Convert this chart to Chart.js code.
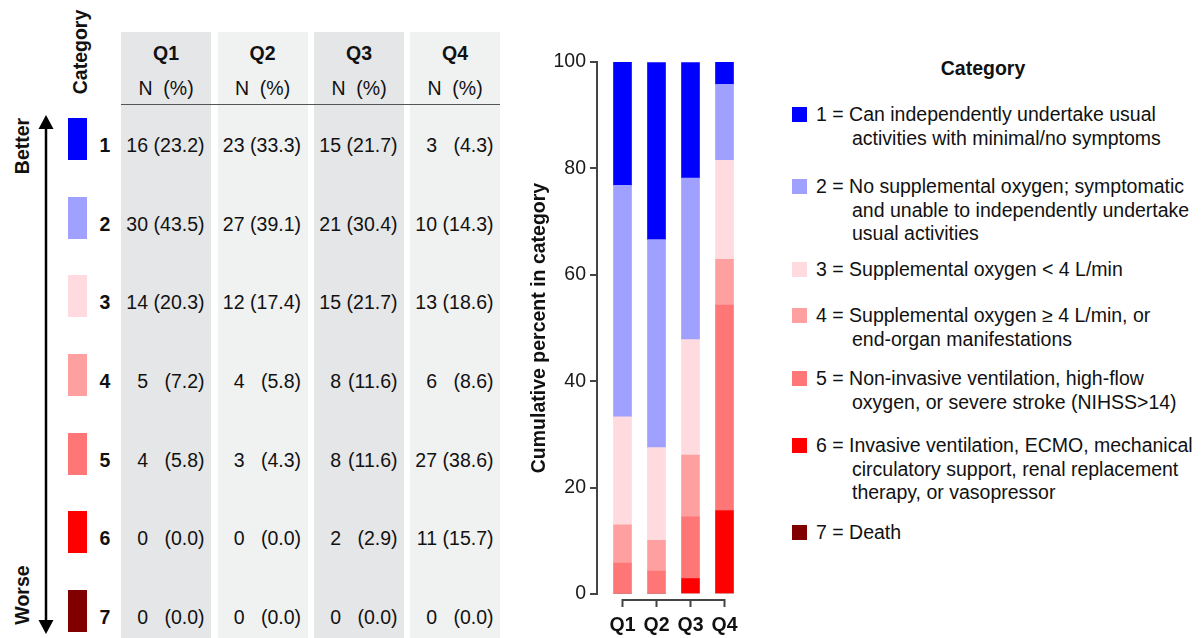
<!DOCTYPE html>
<html>
<head>
<meta charset="utf-8">
<script src="https://cdn.jsdelivr.net/npm/chart.js@4.4.0/dist/chart.umd.min.js"></script>
<style>
  body { margin: 0; width: 1204px; height: 638px; background: #fff; overflow: hidden; position: relative;
         font-family: "Liberation Sans", Arial, Helvetica, sans-serif; color: #111; }
  .t { position: absolute; white-space: nowrap; height: 24px; line-height: 24px; font-size: 19.5px; }
  .b { font-weight: bold; }
  .rot { position: absolute; white-space: nowrap; font-size: 19.5px; font-weight: bold; line-height: 24px;
         transform: translate(-50%, -50%) rotate(-90deg); }
  .box { position: absolute; }
  #bars { position: absolute; left: 500px; top: 0; }
  #arrow { position: absolute; left: 0; top: 0; }
</style>
</head>
<body>
<canvas id="bars" width="260" height="638"></canvas>
<script>
// data
const quarters = ['Q1', 'Q2', 'Q3', 'Q4'];
const categories = ['1', '2', '3', '4', '5', '6', '7'];

// N per quarter, one array per category
const nCat1 = [16, 23, 15, 3];
const nCat2 = [30, 27, 21, 10];
const nCat3 = [14, 12, 15, 13];
const nCat4 = [5, 4, 8, 6];
const nCat5 = [4, 3, 8, 27];
const nCat6 = [0, 0, 2, 11];
const nCat7 = [0, 0, 0, 0];

// percent per quarter
const pctCat1 = [23.2, 33.3, 21.7, 4.3];
const pctCat2 = [43.5, 39.1, 30.4, 14.3];
const pctCat3 = [20.3, 17.4, 21.7, 18.6];
const pctCat4 = [7.2, 5.8, 11.6, 8.6];
const pctCat5 = [5.8, 4.3, 11.6, 38.6];
const pctCat6 = [0.0, 0.0, 2.9, 15.7];
const pctCat7 = [0.0, 0.0, 0.0, 0.0];

const yTicks = [0, 20, 40, 60, 80, 100];

const legendText = [
  ['Can independently undertake usual', 'activities with minimal/no symptoms'],
  ['No supplemental oxygen; symptomatic', 'and unable to independently undertake', 'usual activities'],
  ['Supplemental oxygen < 4 L/min'],
  ['Supplemental oxygen \u2265 4 L/min, or', 'end-organ manifestations'],
  ['Non-invasive ventilation, high-flow', 'oxygen, or severe stroke (NIHSS>14)'],
  ['Invasive ventilation, ECMO, mechanical', 'circulatory support, renal replacement', 'therapy, or vasopressor'],
  ['Death']
];

const counts = [nCat1, nCat2, nCat3, nCat4, nCat5, nCat6, nCat7];
const pcts = [pctCat1, pctCat2, pctCat3, pctCat4, pctCat5, pctCat6, pctCat7];
const catColors = ['#0000ff', '#a0a0ff', '#ffdadf', '#ffa0a0', '#ff7676', '#ff0000', '#800000'];

// helpers for the html parts
function addText(txt, x, y, align, cls) {
  const d = document.createElement('div');
  d.className = 't' + (cls ? ' ' + cls : '');
  d.textContent = txt;
  d.style.top = (y - 12) + 'px';
  if (align === 'right') {
    d.style.right = (1204 - x) + 'px';
  } else if (align === 'center') {
    d.style.left = x + 'px';
    d.style.transform = 'translateX(-50%)';
  } else {
    d.style.left = x + 'px';
  }
  document.body.appendChild(d);
}
function addBox(x, y, w, h, color) {
  const d = document.createElement('div');
  d.className = 'box';
  Object.assign(d.style, { left: x + 'px', top: y + 'px', width: w + 'px', height: h + 'px', background: color });
  document.body.appendChild(d);
}
function addRot(txt, x, y) {
  const d = document.createElement('div');
  d.className = 'rot';
  d.textContent = txt;
  d.style.left = x + 'px';
  d.style.top = y + 'px';
  document.body.appendChild(d);
}

// left table
const colLeft = [121, 217.5, 314, 410];
const colBg = ['#e5e6e8', '#f0f1f1', '#e5e6e8', '#f0f1f1'];
const rowY = i => 145 + i * 78.67;

colLeft.forEach((x, j) => addBox(x, 32, 90, 606, colBg[j]));
colLeft.forEach((x, j) => {
  addText(quarters[j], x + 45, 53, 'center', 'b');
  addText('N\u00a0\u00a0(%)', x + 45, 88, 'center');
});
addBox(121, 103.5, 379, 1.5, '#555');

// better / worse arrow
document.body.insertAdjacentHTML('beforeend',
  '<svg id="arrow" width="100" height="638">' +
  '<line x1="46" y1="126" x2="46" y2="622" stroke="#000" stroke-width="2.5"/>' +
  '<polygon points="46,115 38.5,129 53.5,129" fill="#000"/>' +
  '<polygon points="46,634 38.5,620 53.5,620" fill="#000"/></svg>');

addRot('Category', 80, 52);
addRot('Better', 22, 146);
addRot('Worse', 22, 595);

categories.forEach((c, i) => {
  const y = rowY(i);
  addBox(68, y - 27, 19, 42, catColors[i]);
  addText(c, 105, y, 'center', 'b');
  quarters.forEach((q, j) => {
    addText(String(counts[i][j]), colLeft[j] + 27, y, 'right');
    addText('(' + pcts[i][j].toFixed(1) + ')', colLeft[j] + 83.5, y, 'right');
  });
});

// legend on the right
const legendY = [114, 186, 269, 315, 378, 445, 532];
addText('Category', 983, 68, 'center', 'b');
categories.forEach((c, i) => {
  const y = legendY[i];
  addBox(792, y - 7.5, 15, 15, catColors[i]);
  legendText[i].forEach((line, k) => {
    if (k === 0) addText(c + ' = ' + line, 816, y, 'left');
    else addText(line, 852, y + k * 23.5, 'left');
  });
});

// stacked bars
Chart.defaults.font.family = '"Liberation Sans", Arial, Helvetica, sans-serif';
Chart.defaults.color = '#1a1a1a';

// worst category goes at the bottom of the stack
const datasets = [];
for (let i = categories.length - 1; i >= 0; i--) {
  datasets.push({
    label: categories[i],
    data: pcts[i].map((v, j) => ({ x: j + 1, y: v })),
    backgroundColor: catColors[i],
    borderWidth: 0,
    barThickness: 18
  });
}

// R style bracket under the bars
const bracket = {
  id: 'bracket',
  afterDraw(chart) {
    const { ctx, chartArea } = chart;
    const xs = chart.scales.x;
    const y0 = chartArea.bottom + 6;
    const px = quarters.map((q, i) => xs.getPixelForValue(i + 1));
    ctx.save();
    ctx.strokeStyle = '#444';
    ctx.lineWidth = 2;
    ctx.beginPath();
    ctx.moveTo(px[0], y0);
    ctx.lineTo(px[px.length - 1], y0);
    px.forEach(p => { ctx.moveTo(p, y0 - 1); ctx.lineTo(p, y0 + 7); });
    ctx.stroke();
    ctx.restore();
  }
};

new Chart(document.getElementById('bars'), {
  type: 'bar',
  data: { datasets: datasets },
  options: {
    responsive: false,
    animation: false,
    devicePixelRatio: 1,
    layout: { padding: { top: 62, right: 18.5, bottom: 0, left: 0 } },
    plugins: { legend: { display: false }, tooltip: { enabled: false } },
    scales: {
      x: {
        type: 'linear',
        min: 0.25,
        max: 4.5,
        offset: false,
        stacked: true,
        grid: { display: false, drawTicks: false },
        border: { display: false },
        afterBuildTicks: s => { s.ticks = quarters.map((q, i) => ({ value: i + 1 })); },
        afterFit: s => { s.height = 44; },
        ticks: {
          autoSkip: false,
          maxRotation: 0,
          padding: 20,
          font: { size: 19.5, weight: 'bold' },
          color: '#111',
          callback: v => quarters[v - 1]
        }
      },
      y: {
        min: 0,
        max: 100,
        stacked: true,
        afterBuildTicks: s => { s.ticks = yTicks.map(v => ({ value: v })); },
        afterFit: s => { s.width = 97; },
        grid: { drawOnChartArea: false, drawTicks: true, tickLength: 7, color: '#444', lineWidth: 2 },
        border: { color: '#444', width: 2 },
        ticks: { padding: 4, font: { size: 19.5 }, color: '#1a1a1a' },
        title: {
          display: true,
          text: 'Cumulative percent in category',
          font: { size: 19.5, weight: 'bold' },
          color: '#111',
          padding: { top: 28, bottom: 0 }
        }
      }
    }
  },
  plugins: [bracket]
});
</script>
</body>
</html>
